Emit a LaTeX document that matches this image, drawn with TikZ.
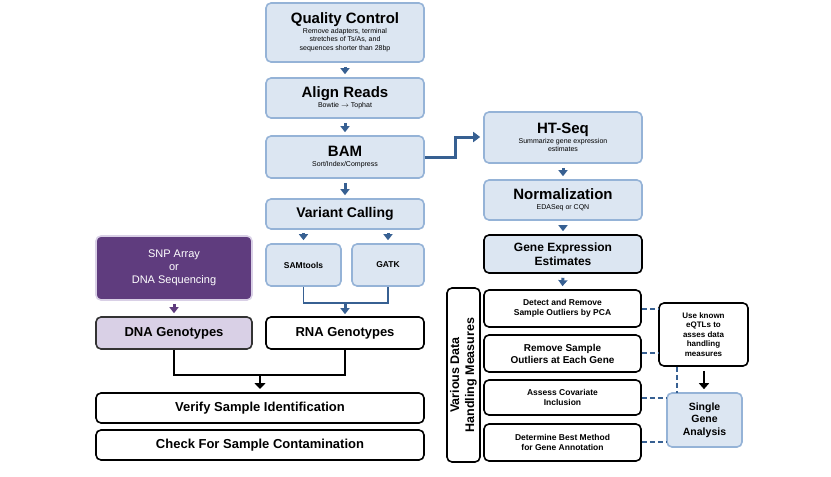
\documentclass[tikz,border=0pt]{standalone}
\usepackage{fontspec}
\setmainfont{Liberation Sans}
\usetikzlibrary{arrows.meta}
\definecolor{lb}{HTML}{DCE6F2}
\definecolor{bb}{HTML}{95B3D7}
\definecolor{ab}{HTML}{376092}
\definecolor{pd}{HTML}{5F3C7E}
\definecolor{pl}{HTML}{D9D0E6}
\tikzset{x=1pt,y=-1pt,
 bx/.style={draw=bb,fill=lb,line width=1.6pt,rounded corners=5pt,align=center,inner sep=0pt},
 kx/.style={draw=black,line width=1.6pt,rounded corners=5pt,align=center,inner sep=0pt},
 ar/.style={-{Triangle[length=6pt,width=9pt]},line width=3pt,draw=ab},
 dl/.style={draw=ab,line width=1.3pt,dash pattern=on 5pt off 3pt},
 f/.style={font=\pgfmathsetmacro\mybls{#1*1.2}\fontsize{#1}{\mybls}\selectfont\bfseries},
 sm/.style={font=\fontsize{7}{8.5}\selectfont}}
\newcommand{\ttl}[1]{{\fontsize{15}{17}\selectfont\bfseries #1}}
\newcommand{\bxat}[5]{\node[#1,minimum width=#4-#2,minimum height=#5-#3] at ({(#2+#4)/2},{(#3+#5)/2})}
\begin{document}
\begin{tikzpicture}
\useasboundingbox (0,0) rectangle (831,477);
\bxat{bx,sm}{266}{3}{424}{62} (qc) {\ttl{Quality Control}\\[1pt]Remove adapters, terminal\\stretches of Ts/As, and\\sequences shorter than 28bp};
\bxat{bx,sm}{266}{78}{424}{118} (al) {\ttl{Align Reads}\\[1pt]Bowtie $\rightarrow$ Tophat};
\bxat{bx,sm}{266}{136}{424}{178} (bam) {\ttl{BAM}\\[1pt]Sort/Index/Compress};
\bxat{bx,f=14}{266}{199}{424}{229} (vc) {Variant Calling};
\bxat{bx,f=8.5}{266}{244}{341}{286} (sam) {SAMtools};
\bxat{bx,f=8.5}{352}{244}{424}{286} (gatk) {GATK};
\bxat{bx,draw=pl,fill=pd,text=white,font=\fontsize{11}{13}\selectfont}{96}{236}{252}{300} (snp) {SNP Array\\or\\DNA Sequencing};
\bxat{kx,fill=pl,draw=black!80,f=13}{96}{317}{252}{349} (dna) {DNA Genotypes};
\bxat{kx,f=13}{266}{317}{424}{349} (rna) {RNA Genotypes};
\bxat{kx,f=13}{96}{393}{424}{423} (ver) {Verify Sample Identification};
\bxat{kx,f=13}{96}{430}{424}{460} (chk) {Check For Sample Contamination};
\bxat{bx,sm}{484}{112}{642}{163} (ht) {\ttl{HT-Seq}\\[1pt]Summarize gene expression\\estimates};
\bxat{bx,sm}{484}{180}{642}{220} (nm) {\ttl{Normalization}\\[1pt]EDASeq or CQN};
\bxat{kx,fill=lb,f=12}{484}{235}{642}{273} (ge) {Gene Expression\\Estimates};
\bxat{kx}{447}{288}{480}{462} (vd) {};
\node[rotate=90,align=center,f=12.5] (vdl) at (vd.center) {Various Data\\Handling Measures};
\bxat{kx,f=8.5}{484}{290}{641}{327} (d1) {Detect and Remove\\Sample Outliers by PCA};
\bxat{kx,f=10}{484}{335}{641}{372} (d2) {Remove Sample\\Outliers at Each Gene};
\bxat{kx,f=8.5}{484}{380}{641}{415} (d3) {Assess Covariate\\Inclusion};
\bxat{kx,f=8.5}{484}{424}{641}{461} (d4) {Determine Best Method\\for Gene Annotation};
\bxat{kx,f=8}{659}{303}{748}{366} (eq) {Use known\\eQTLs to\\asses data\\handling\\measures};
\bxat{bx,f=10.5}{667}{393}{742}{447} (sg) {Single\\Gene\\Analysis};
% arrows
\foreach \a/\b in {qc/al,al/bam,bam/vc,ht/nm,nm/ge,ge/d1}
  \draw[ar] ([yshift=-4pt]\a.south) -- ([yshift=3pt]\b.north);
\draw[ar] ([yshift=-3pt]vc.south -| sam) -- ([yshift=3pt]sam.north);
\draw[ar] ([yshift=-3pt]vc.south -| gatk) -- ([yshift=3pt]gatk.north);
\draw[ar,draw=pd] ([yshift=-3pt]snp.south) -- ([yshift=3pt]dna.north);
\coordinate (j1) at (345,303);
\draw[ab,line width=1.6pt] (sam.south) |- (j1) -| (gatk.south);
\draw[ar] (j1) -- ([yshift=2pt]rna.north);
\coordinate (j2) at (260,375);
\draw[black,line width=2pt] (dna.south) |- (j2) -| (rna.south);
\draw[-{Triangle[length=6pt,width=11pt]},line width=2pt] (j2) -- (260,389);
\coordinate (b1) at (455,157);
\coordinate (b2) at (455,137);
\draw[ab,line width=3pt,-{Triangle[length=7pt,width=10pt]}] (bam.east) -- (b1) -- (b2) -- ([xshift=-3pt]ht.west |- b2);
\draw[-{Triangle[length=6pt,width=10pt]},line width=2.5pt] ([yshift=-4pt]eq.south -| 704,0) -- ([yshift=3pt]sg.north -| 704,0);
\coordinate (v1) at (677,309);
\coordinate (v2) at (677,393);
\draw[dl] (d1.east |- v1) -- (eq.west |- v1);
\draw[dl] (d2.east |- 0,353) -- (eq.west |- 0,353);
\draw[dl] (d3.east |- 0,398) -- (sg.west |- 0,398);
\draw[dl] (d4.east |- 0,442) -- (sg.west |- 0,442);
\draw[dl] (eq.south -| v1) -- (v2);
\end{tikzpicture}
\end{document}
